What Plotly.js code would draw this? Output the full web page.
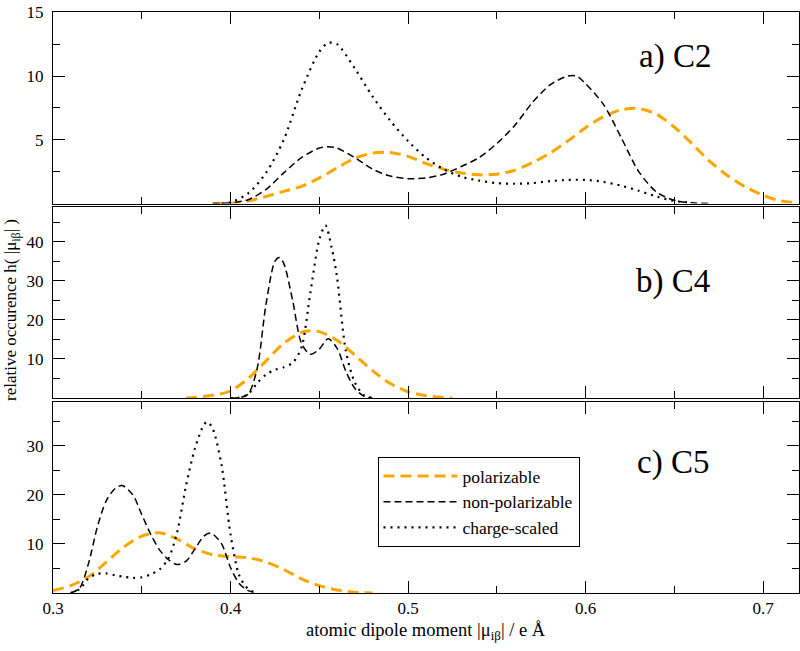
<!DOCTYPE html>
<html>
<head>
<meta charset="utf-8">
<script src="https://cdn.plot.ly/plotly-3.0.1.min.js"></script>
<style>html,body{margin:0;padding:0;background:#fff;}#chart{width:800px;height:651px;}</style>
</head>
<body>
<div id="chart"></div>
<script>
// ---- data ----
const seriesNames = ["polarizable", "non-polarizable", "charge-scaled"];
const panelLabels = ["a) C2", "b) C4", "c) C5"];

// a) C2
const c2PolX = [0.39,0.40,0.41,0.42,0.43,0.44,0.45,0.46,0.47,0.48,0.49,0.50,0.51,0.52,0.53,0.54,0.55,0.56,0.57,0.58,0.59,0.60,0.61,0.62,0.63,0.64,0.65,0.66,0.67,0.68,0.69,0.70,0.71,0.72];
const c2PolY = [0,0.02,0.2,0.55,0.95,1.35,2.0,2.8,3.55,3.95,4.0,3.7,3.15,2.7,2.4,2.25,2.3,2.6,3.2,3.95,4.9,5.95,6.8,7.35,7.45,7.0,6.0,4.7,3.3,2.2,1.3,0.65,0.2,0.05];
const c2NonX = [0.39,0.40,0.41,0.42,0.43,0.44,0.45,0.455,0.46,0.47,0.48,0.49,0.50,0.51,0.52,0.53,0.54,0.55,0.56,0.57,0.58,0.59,0.595,0.60,0.61,0.62,0.63,0.64,0.65,0.66,0.67];
const c2NonY = [0,0.05,0.3,1.1,2.4,3.6,4.35,4.45,4.35,3.6,2.7,2.15,1.95,2.0,2.3,2.9,3.6,4.7,6.1,7.9,9.3,10.0,10.0,9.4,7.8,5.2,2.5,0.9,0.25,0.05,0];
const c2ChgX = [0.395,0.40,0.41,0.42,0.43,0.44,0.45,0.455,0.46,0.47,0.48,0.49,0.50,0.51,0.52,0.53,0.54,0.55,0.56,0.57,0.58,0.59,0.60,0.61,0.62,0.63,0.64,0.65,0.66];
const c2ChgY = [0,0.1,0.8,2.4,5.0,8.9,11.9,12.6,12.5,10.6,8.4,6.5,4.9,3.6,2.7,2.1,1.8,1.6,1.55,1.6,1.75,1.85,1.85,1.7,1.4,1.0,0.55,0.2,0.05];

// b) C4
const c4PolX = [0.375,0.38,0.39,0.40,0.41,0.42,0.43,0.44,0.445,0.45,0.46,0.47,0.48,0.49,0.50,0.51,0.52,0.525];
const c4PolY = [0,0.15,0.7,1.8,5.0,9.5,14,16.8,17.2,17.0,14.8,11,7,3.7,1.6,0.6,0.1,0];
const c4NonX = [0.40,0.405,0.41,0.415,0.42,0.425,0.4275,0.43,0.435,0.44,0.445,0.45,0.455,0.46,0.465,0.47,0.475,0.48];
const c4NonY = [0,0.1,1.0,7.5,24,35,36,34.5,25,14,11.2,12.5,15.2,12.8,6.8,2.5,0.5,0];
const c4ChgX = [0.40,0.405,0.41,0.415,0.42,0.425,0.43,0.435,0.44,0.445,0.45,0.4535,0.457,0.46,0.465,0.47,0.475,0.48];
const c4ChgY = [0,0.1,1.0,3.8,6.0,7.2,7.9,9.0,13,27,40.5,44.2,38.5,31,12,4,0.8,0];

// c) C5
const c5PolX = [0.30,0.31,0.32,0.33,0.34,0.35,0.36,0.37,0.38,0.39,0.40,0.41,0.42,0.43,0.44,0.45,0.46,0.47,0.48];
const c5PolY = [0.5,1.5,3.3,6.3,9.4,11.6,12.3,11.0,9.0,7.8,7.4,7.2,6.3,4.8,2.9,1.5,0.6,0.15,0];
const c5NonX = [0.31,0.315,0.32,0.325,0.33,0.335,0.339,0.345,0.35,0.355,0.36,0.365,0.37,0.375,0.38,0.385,0.389,0.395,0.40,0.405,0.41,0.415];
const c5NonY = [0,1.0,6,13.5,18.8,21.3,21.9,20,16,12,8.8,6.8,5.8,6.5,9,11.6,12.2,10,5.2,1.9,0.5,0];
const c5ChgX = [0.31,0.315,0.32,0.325,0.33,0.335,0.34,0.345,0.35,0.355,0.36,0.365,0.37,0.375,0.38,0.385,0.387,0.39,0.395,0.40,0.405,0.41,0.415];
const c5ChgY = [0,0.8,3.0,3.9,4.0,3.6,3.3,3.1,3.2,3.8,4.8,7.0,12.5,22,29.5,34.3,34.9,33.5,26,12,3.5,0.8,0];

const xTickVals = [0.3,0.4,0.5,0.6,0.7];
const xTickText = ["0.3","0.4","0.5","0.6","0.7"];
const yTicks1 = [5,10,15];
const yTicks2 = [10,20,30,40];
const yTicks3 = [10,20,30];

// ---- styling ----
const styles = [
  {color:'#FFA500', width:3, dash:'11px,6px'},
  {color:'#000000', width:1.5, dash:'7px,4px'},
  {color:'#000000', width:2.2, dash:'2px,5px'}
];
const panels = [
  {xs:[c2PolX,c2NonX,c2ChgX], ys:[c2PolY,c2NonY,c2ChgY], xa:'x', ya:'y'},
  {xs:[c4PolX,c4NonX,c4ChgX], ys:[c4PolY,c4NonY,c4ChgY], xa:'x2', ya:'y2'},
  {xs:[c5PolX,c5NonX,c5ChgX], ys:[c5PolY,c5NonY,c5ChgY], xa:'x3', ya:'y3'}
];
const traces = [];
panels.forEach((p, pi) => {
  for (let s = 0; s < 3; s++) {
    traces.push({
      type:'scatter', mode:'lines', x:p.xs[s], y:p.ys[s], xaxis:p.xa, yaxis:p.ya,
      name:seriesNames[s], showlegend: pi === 2,
      line:{color:styles[s].color, width:styles[s].width, dash:styles[s].dash, shape:'spline', smoothing:0.8},
      hoverinfo:'skip'
    });
  }
});

const FONT = '"Liberation Serif", serif';
const xDomain = [53/800, 798.5/800];
function xAxis(anchor, showLabels){
  return {
    domain:xDomain, anchor:anchor, range:[0.3,0.72], showgrid:false, zeroline:false,
    showline:true, linecolor:'#000', linewidth:1, mirror:'allticks',
    ticks:'inside', ticklen:12, tickwidth:1, tickcolor:'#000',
    tickmode:'array', tickvals:xTickVals, ticktext:xTickText, showticklabels:showLabels,
    tickfont:{family:FONT, size:17, color:'#000'},
    minor:{ticks:'inside', ticklen:7, tickwidth:1, tickcolor:'#000', tickmode:'array', tickvals:[0.35,0.45,0.55,0.65]}
  };
}
function yAxis(anchor, domain, range, vals, minorVals){
  return {
    domain:domain, anchor:anchor, range:range, showgrid:false, zeroline:false,
    showline:true, linecolor:'#000', linewidth:1, mirror:'allticks',
    ticks:'inside', ticklen:12, tickwidth:1, tickcolor:'#000',
    tickmode:'array', tickvals:vals, ticktext:vals.map(String),
    tickfont:{family:FONT, size:17, color:'#000'}, ticklabelstandoff:5,
    minor:{ticks:'inside', ticklen:7, tickwidth:1, tickcolor:'#000', tickmode:'array', tickvals:minorVals}
  };
}

const layout = {
  width:800, height:651, margin:{l:0,r:0,t:0,b:0},
  paper_bgcolor:'#fff', plot_bgcolor:'#fff',
  font:{family:FONT, color:'#000'},
  xaxis:xAxis('y', false),
  xaxis2:xAxis('y2', false),
  xaxis3:xAxis('y3', true),
  yaxis:yAxis('x', [1-203.5/651, 1-12.3/651], [0,15], yTicks1, [2.5,7.5,12.5]),
  yaxis2:yAxis('x2', [1-398/651, 1-206.7/651], [0,49], yTicks2, [5,15,25,35,45]),
  yaxis3:yAxis('x3', [1-593/651, 1-401.7/651], [0,39], yTicks3, [5,15,25,35]),
  showlegend:true,
  legend:{x:377.5/800, y:1-457/651, xanchor:'left', yanchor:'top',
    bgcolor:'#fff', bordercolor:'#000', borderwidth:1,
    font:{family:FONT, size:17.5, color:'#000'}, itemwidth:74, tracegroupgap:0},
  annotations:[
    {text:panelLabels[0], xref:'paper', yref:'paper', x:675/800, y:1-57/651, xanchor:'center', yanchor:'middle', showarrow:false, font:{family:FONT, size:33, color:'#000'}},
    {text:panelLabels[1], xref:'paper', yref:'paper', x:673/800, y:1-281/651, xanchor:'center', yanchor:'middle', showarrow:false, font:{family:FONT, size:33, color:'#000'}},
    {text:panelLabels[2], xref:'paper', yref:'paper', x:673/800, y:1-462/651, xanchor:'center', yanchor:'middle', showarrow:false, font:{family:FONT, size:33, color:'#000'}},
    {text:'atomic dipole moment |μ<sub>iβ</sub>| / e Å', xref:'paper', yref:'paper', x:426/800, y:1-631/651, xanchor:'center', yanchor:'middle', showarrow:false, font:{family:FONT, size:18.5, color:'#000'}},
    {text:'relative occurence h( |μ<sub>iβ</sub>| )', xref:'paper', yref:'paper', x:12/800, y:1-310/651, xanchor:'center', yanchor:'middle', textangle:-90, showarrow:false, font:{family:FONT, size:17, color:'#000'}}
  ]
};

Plotly.newPlot('chart', traces, layout, {staticPlot:true, displayModeBar:false});
</script>
</body>
</html>
